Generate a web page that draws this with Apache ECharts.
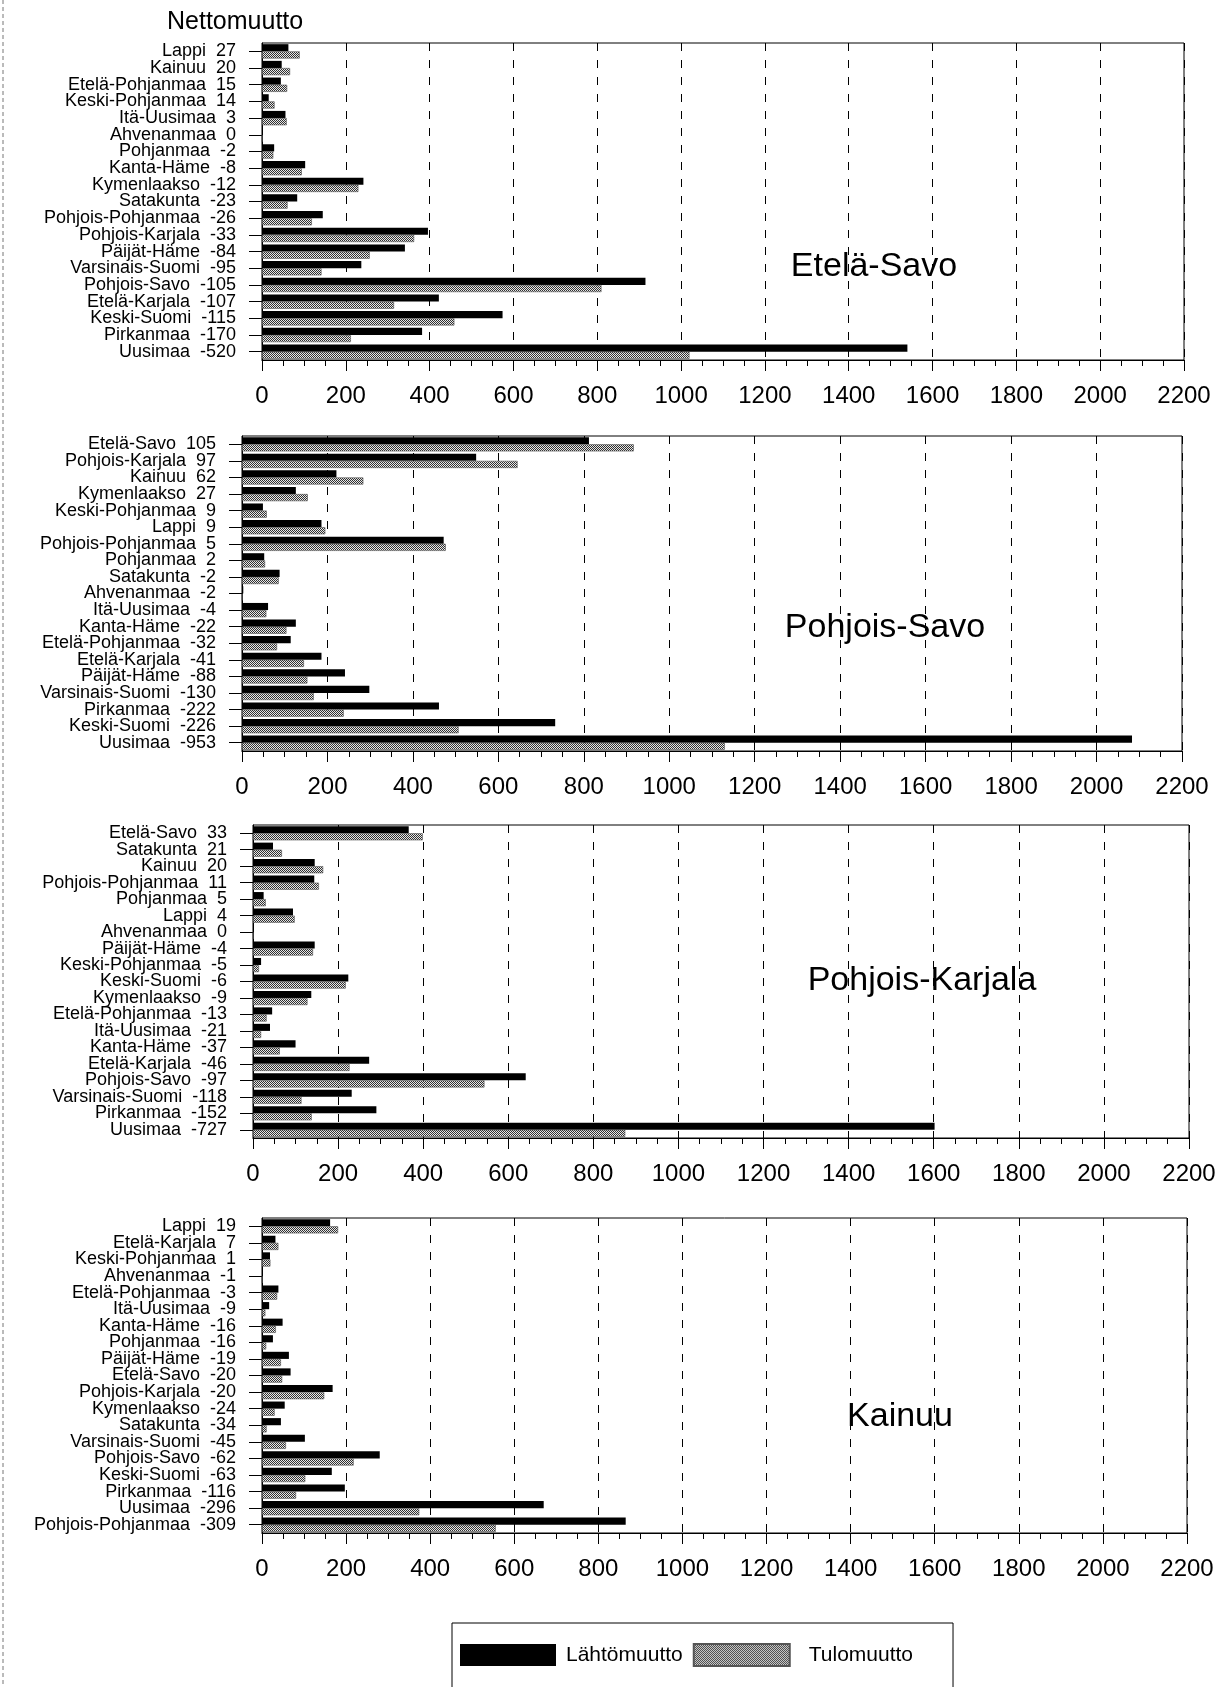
<!DOCTYPE html>
<html><head><meta charset="utf-8">
<script src="https://cdn.jsdelivr.net/npm/echarts@6/dist/echarts.min.js"></script>
<style>html,body{margin:0;padding:0;background:#fff}#c{width:1230px;height:1687px}</style>
</head><body><div id="c"></div>
<script>
// ---- Data ----
const seriesNames = ['Lähtömuutto', 'Tulomuutto'];
const netTitle = 'Nettomuutto';
const xTicks = [0, 200, 400, 600, 800, 1000, 1200, 1400, 1600, 1800, 2000, 2200];

const region1 = 'Etelä-Savo';
const cats1 = ['Lappi','Kainuu','Etelä-Pohjanmaa','Keski-Pohjanmaa','Itä-Uusimaa','Ahvenanmaa','Pohjanmaa','Kanta-Häme','Kymenlaakso','Satakunta','Pohjois-Pohjanmaa','Pohjois-Karjala','Päijät-Häme','Varsinais-Suomi','Pohjois-Savo','Etelä-Karjala','Keski-Suomi','Pirkanmaa','Uusimaa'];
const net1 = [27,20,15,14,3,0,-2,-8,-12,-23,-26,-33,-84,-95,-105,-107,-115,-170,-520];
const lahto1 = [63,47,45,16,56,1,29,103,242,84,145,396,341,237,915,422,574,382,1540];
const tulo1 = [90,67,60,30,59,1,27,95,230,61,119,363,257,142,810,315,459,212,1020];

const region2 = 'Pohjois-Savo';
const cats2 = ['Etelä-Savo','Pohjois-Karjala','Kainuu','Kymenlaakso','Keski-Pohjanmaa','Lappi','Pohjois-Pohjanmaa','Pohjanmaa','Satakunta','Ahvenanmaa','Itä-Uusimaa','Kanta-Häme','Etelä-Pohjanmaa','Etelä-Karjala','Päijät-Häme','Varsinais-Suomi','Pirkanmaa','Keski-Suomi','Uusimaa'];
const net2 = [105,97,62,27,9,9,5,2,-2,-2,-4,-22,-32,-41,-88,-130,-222,-226,-953];
const lahto2 = [812,548,221,126,49,186,472,52,88,3,61,126,114,186,241,298,461,733,2083];
const tulo2 = [917,645,284,154,58,195,477,54,86,1,57,104,82,145,153,168,238,507,1130];

const region3 = 'Pohjois-Karjala';
const cats3 = ['Etelä-Savo','Satakunta','Kainuu','Pohjois-Pohjanmaa','Pohjanmaa','Lappi','Ahvenanmaa','Päijät-Häme','Keski-Pohjanmaa','Keski-Suomi','Kymenlaakso','Etelä-Pohjanmaa','Itä-Uusimaa','Kanta-Häme','Etelä-Karjala','Pohjois-Savo','Varsinais-Suomi','Pirkanmaa','Uusimaa'];
const net3 = [33,21,20,11,5,4,0,-4,-5,-6,-9,-13,-21,-37,-46,-97,-118,-152,-727];
const lahto3 = [366,47,145,144,25,94,1,145,19,224,137,45,40,100,273,641,232,290,1602];
const tulo3 = [399,68,165,155,30,98,1,141,14,218,128,32,19,63,227,544,114,138,875];

const region4 = 'Kainuu';
const cats4 = ['Lappi','Etelä-Karjala','Keski-Pohjanmaa','Ahvenanmaa','Etelä-Pohjanmaa','Itä-Uusimaa','Kanta-Häme','Pohjanmaa','Päijät-Häme','Etelä-Savo','Pohjois-Karjala','Kymenlaakso','Satakunta','Varsinais-Suomi','Pohjois-Savo','Keski-Suomi','Pirkanmaa','Uusimaa','Pohjois-Pohjanmaa'];
const net4 = [19,7,1,-1,-3,-9,-16,-16,-19,-20,-20,-24,-34,-45,-62,-63,-116,-296,-309];
const lahto4 = [162,32,19,2,39,17,49,26,64,68,168,54,45,102,280,166,197,670,865];
const tulo4 = [181,39,20,1,36,8,33,10,45,48,148,30,11,57,218,103,81,374,556];

// ---- Layout ----
const FONT = '"Liberation Sans", Arial, sans-serif';
const panels = [
  {name: region1, cats: cats1, net: net1, lahto: lahto1, tulo: tulo1, left: 262, width: 922, top: 43,   height: 317, lx: 874, ly: 267},
  {name: region2, cats: cats2, net: net2, lahto: lahto2, tulo: tulo2, left: 242, width: 940, top: 436,  height: 315, lx: 885, ly: 628},
  {name: region3, cats: cats3, net: net3, lahto: lahto3, tulo: tulo3, left: 253, width: 936, top: 825,  height: 313, lx: 922, ly: 981},
  {name: region4, cats: cats4, net: net4, lahto: lahto4, tulo: tulo4, left: 262, width: 925, top: 1218, height: 315, lx: 900, ly: 1417}
];

// hatched pattern for Tulomuutto
const pc = document.createElement('canvas'); pc.width = 4; pc.height = 4;
const g = pc.getContext('2d');
g.fillStyle = '#e8e8e8'; g.fillRect(0, 0, 4, 4);
g.fillStyle = '#303030';
for (let i = 0; i < 4; i++) { g.fillRect(i, i, 1, 1); g.fillRect((i + 2) % 4, i, 1, 1); }
const hatch = {image: pc, repeat: 'repeat'};

const grid = [], xAxis = [], yAxis = [], series = [], graphic = [];
panels.forEach((p, i) => {
  grid.push({left: p.left, width: p.width, top: p.top, height: p.height, show: true, borderColor: '#000', borderWidth: 1, backgroundColor: 'transparent'});
  xAxis.push({
    gridIndex: i, type: 'value', min: xTicks[0], max: xTicks[xTicks.length - 1], interval: xTicks[1] - xTicks[0],
    axisLine: {show: true, lineStyle: {color: '#000', width: 1.2}},
    axisTick: {show: true, length: 11, lineStyle: {color: '#000'}},
    minorTick: {show: true, splitNumber: 4, length: 6, lineStyle: {color: '#000'}},
    splitLine: {show: true, lineStyle: {color: '#000', type: [8, 9], width: 1}},
    axisLabel: {fontSize: 24, color: '#000', margin: 24, fontFamily: FONT, showMaxLabel: true, showMinLabel: true,
      formatter: v => String(v)}
  });
  yAxis.push({
    gridIndex: i, type: 'category', inverse: true, data: p.cats,
    axisLine: {show: true, lineStyle: {color: '#000'}},
    axisTick: {show: true, alignWithLabel: true, interval: 0, length: 13, lineStyle: {color: '#000'}},
    axisLabel: {interval: 0, fontSize: 18, lineHeight: 17, color: '#000', margin: 26, fontFamily: FONT,
      formatter: (v, idx) => v + '  ' + p.net[idx]},
    splitLine: {show: false}
  });
  series.push({type: 'bar', name: seriesNames[0], xAxisIndex: i, yAxisIndex: i, data: p.lahto,
    barGap: '0%', barCategoryGap: '14%', itemStyle: {color: '#000'}, silent: true});
  series.push({type: 'bar', name: seriesNames[1], xAxisIndex: i, yAxisIndex: i, data: p.tulo,
    barGap: '0%', barCategoryGap: '14%', itemStyle: {color: hatch, borderColor: '#555', borderWidth: 0.6}, silent: true});
  graphic.push({type: 'text', x: p.lx, y: p.ly, style: {text: p.name, fill: '#000', font: '34px ' + FONT, textAlign: 'center', textVerticalAlign: 'middle'}});
});
graphic.push({type: 'text', x: 167, y: 22, style: {text: netTitle, fill: '#000', font: '25px ' + FONT, textAlign: 'left', textVerticalAlign: 'middle'}});
graphic.push({type: 'line', shape: {x1: 3, y1: 0, x2: 3, y2: 1687}, style: {stroke: '#777', lineWidth: 1, lineDash: [4, 3]}});

const chart = echarts.init(document.getElementById('c'), null, {renderer: 'canvas'});
chart.setOption({
  animation: false,
  backgroundColor: '#fff',
  grid, xAxis, yAxis, series, graphic,
  legend: {
    data: [
      {name: seriesNames[0], textStyle: {padding: [0, 0, 0, 5]}},
      {name: seriesNames[1], textStyle: {padding: [0, 0, 0, 14]}}
    ],
    left: 452, top: 1623, orient: 'horizontal', icon: 'rect',
    itemWidth: 96, itemHeight: 22, itemGap: 10, selectedMode: false,
    padding: [20, 40, 40, 8], borderColor: '#000', borderWidth: 1,
    textStyle: {fontSize: 21, color: '#000', fontFamily: FONT}
  }
});
</script></body></html>
